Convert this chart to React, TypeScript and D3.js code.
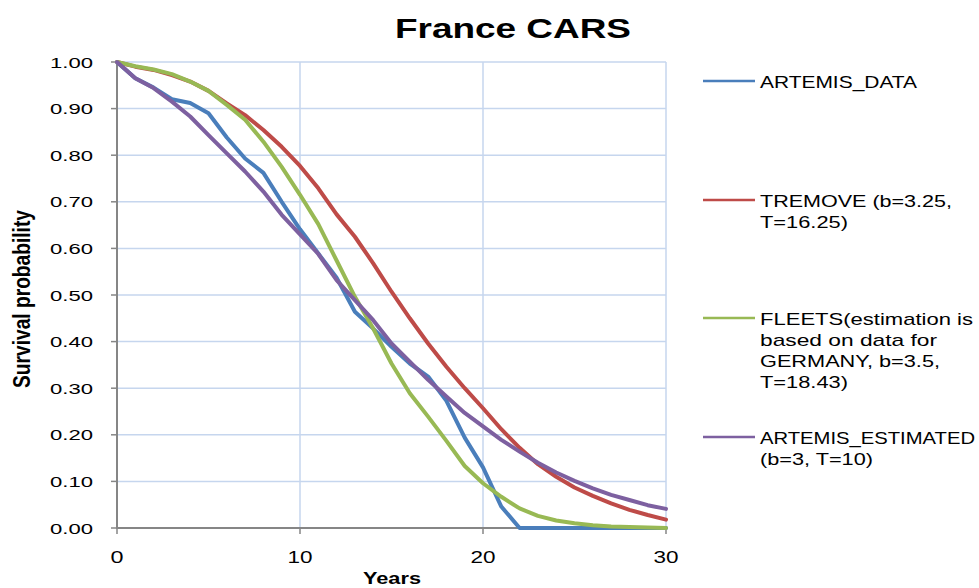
import React from "react";
import * as d3 from "d3";

// Age in years (x categories)
const years = [0, 1, 2, 3, 4, 5, 6, 7, 8, 9, 10, 11, 12, 13, 14, 15, 16, 17, 18, 19, 20, 21, 22, 23, 24, 25, 26, 27, 28, 29, 30];

// Survival probability per series
const artemisData = [1.0, 0.965, 0.945, 0.92, 0.912, 0.89, 0.838, 0.793, 0.762, 0.7, 0.641, 0.589, 0.537, 0.464, 0.428, 0.389, 0.353, 0.325, 0.273, 0.194, 0.13, 0.046, 0, 0, 0, 0, 0, 0, 0, 0, 0];
const tremove = [1.0, 0.99, 0.983, 0.972, 0.958, 0.938, 0.911, 0.886, 0.854, 0.818, 0.777, 0.729, 0.673, 0.625, 0.568, 0.507, 0.45, 0.396, 0.346, 0.3, 0.257, 0.212, 0.172, 0.137, 0.11, 0.087, 0.069, 0.053, 0.039, 0.028, 0.018];
const fleets = [1.0, 0.991, 0.984, 0.974, 0.958, 0.938, 0.908, 0.876, 0.829, 0.775, 0.715, 0.652, 0.574, 0.496, 0.428, 0.353, 0.289, 0.239, 0.187, 0.133, 0.096, 0.067, 0.042, 0.026, 0.016, 0.01, 0.006, 0.003, 0.002, 0.001, 0.0];
const artemisEstimated = [1.0, 0.965, 0.944, 0.915, 0.883, 0.843, 0.804, 0.765, 0.722, 0.672, 0.63, 0.588, 0.532, 0.489, 0.446, 0.396, 0.357, 0.318, 0.282, 0.247, 0.218, 0.189, 0.164, 0.14, 0.119, 0.101, 0.085, 0.071, 0.06, 0.049, 0.041];

// Legend labels, one array of text lines per series
const legendLabels = [
  ["ARTEMIS_DATA"],
  ["TREMOVE (b=3.25,", "T=16.25)"],
  ["FLEETS(estimation is", "based on data for", "GERMANY, b=3.5,", "T=18.43)"],
  ["ARTEMIS_ESTIMATED", "(b=3, T=10)"],
];

const yTicks = [0, 0.1, 0.2, 0.3, 0.4, 0.5, 0.6, 0.7, 0.8, 0.9, 1.0];
const xTicks = [0, 10, 20, 30];

const seriesValues = [artemisData, tremove, fleets, artemisEstimated];
const colors = ["#4A7EBB", "#BE4B48", "#98B954", "#7D60A0"];

// Rendered widths of legend lines (glyphs are drawn wide)
const legendWidths = [[157], [192, 88], [213, 177, 180, 88], [215, 113]];
const legendY = [81, 200, 318, 437];

const FONT = "'Liberation Sans', Arial, sans-serif";

export default function App() {
  const x = d3.scaleLinear().domain([0, 30]).range([117, 666]);
  const y = d3.scaleLinear().domain([0, 1]).range([528, 62]);
  const line = d3
    .line<number>()
    .x((_, i) => x(years[i]))
    .y((d) => y(d));

  const gridColor = "#C6D6EE";
  const axisColor = "#868686";

  return (
    <svg
      width={979}
      height={588}
      style={{ position: "absolute", left: 0, top: 0, background: "#fff" }}
      fontFamily={FONT}
    >
      <rect width={979} height={588} fill="#fff" />
      {/* title */}
      <text x={395} y={38} fontSize={28} fontWeight="bold" textLength={236} lengthAdjust="spacingAndGlyphs">
        France CARS
      </text>

      {/* gridlines */}
      {yTicks
        .filter((t) => t > 0)
        .map((t) => (
          <line key={"gy" + t} x1={x(0)} x2={x(30)} y1={y(t)} y2={y(t)} stroke={gridColor} strokeWidth={1.5} />
        ))}
      {xTicks
        .filter((t) => t > 0)
        .map((t) => (
          <line key={"gx" + t} x1={x(t)} x2={x(t)} y1={y(0)} y2={y(1)} stroke={gridColor} strokeWidth={1.5} />
        ))}

      {/* y axis */}
      <line x1={x(0)} x2={x(0)} y1={y(1)} y2={y(0) + 1} stroke={axisColor} strokeWidth={2} />
      {yTicks.map((t) => (
        <g key={"yt" + t}>
          <line x1={x(0) - 6} x2={x(0)} y1={y(t)} y2={y(t)} stroke={axisColor} strokeWidth={1.5} />
          <text
            x={93}
            y={y(t) + 5.5}
            fontSize={15.5}
            textAnchor="end"
            textLength={43}
            lengthAdjust="spacingAndGlyphs"
          >
            {t.toFixed(2)}
          </text>
        </g>
      ))}

      {/* x axis */}
      <line x1={x(0)} x2={x(30)} y1={y(0)} y2={y(0)} stroke={axisColor} strokeWidth={2} />
      {xTicks.map((t) => (
        <g key={"xt" + t}>
          <line x1={x(t)} x2={x(t)} y1={y(0)} y2={y(0) + 6} stroke={axisColor} strokeWidth={1.5} />
          <text
            x={x(t)}
            y={563}
            fontSize={16}
            textAnchor="middle"
            textLength={String(t).length === 1 ? 13 : 25}
            lengthAdjust="spacingAndGlyphs"
          >
            {t}
          </text>
        </g>
      ))}

      {/* axis titles */}
      <text x={392} y={584} fontSize={17} fontWeight="bold" textAnchor="middle" textLength={58} lengthAdjust="spacingAndGlyphs">
        Years
      </text>
      <text
        transform="translate(30,299) rotate(-90) scale(1,1.3)"
        fontSize={18}
        fontWeight="bold"
        textAnchor="middle"
        textLength={178}
        lengthAdjust="spacingAndGlyphs"
      >
        Survival probability
      </text>

      {/* series */}
      {seriesValues.map((vals, i) => (
        <path
          key={"s" + i}
          d={line(vals) || ""}
          fill="none"
          stroke={colors[i]}
          strokeWidth={4}
          strokeLinejoin="round"
          strokeLinecap="round"
        />
      ))}

      {/* legend */}
      {legendLabels.map((lines, i) => (
        <g key={"lg" + i}>
          <line x1={703} x2={755} y1={legendY[i]} y2={legendY[i]} stroke={colors[i]} strokeWidth={2.5} />
          {lines.map((s, j) => (
            <text
              key={j}
              x={760}
              y={legendY[i] + 6.5 + j * 21.3}
              fontSize={17}
              textLength={legendWidths[i][j]}
              lengthAdjust="spacingAndGlyphs"
            >
              {s}
            </text>
          ))}
        </g>
      ))}
    </svg>
  );
}
